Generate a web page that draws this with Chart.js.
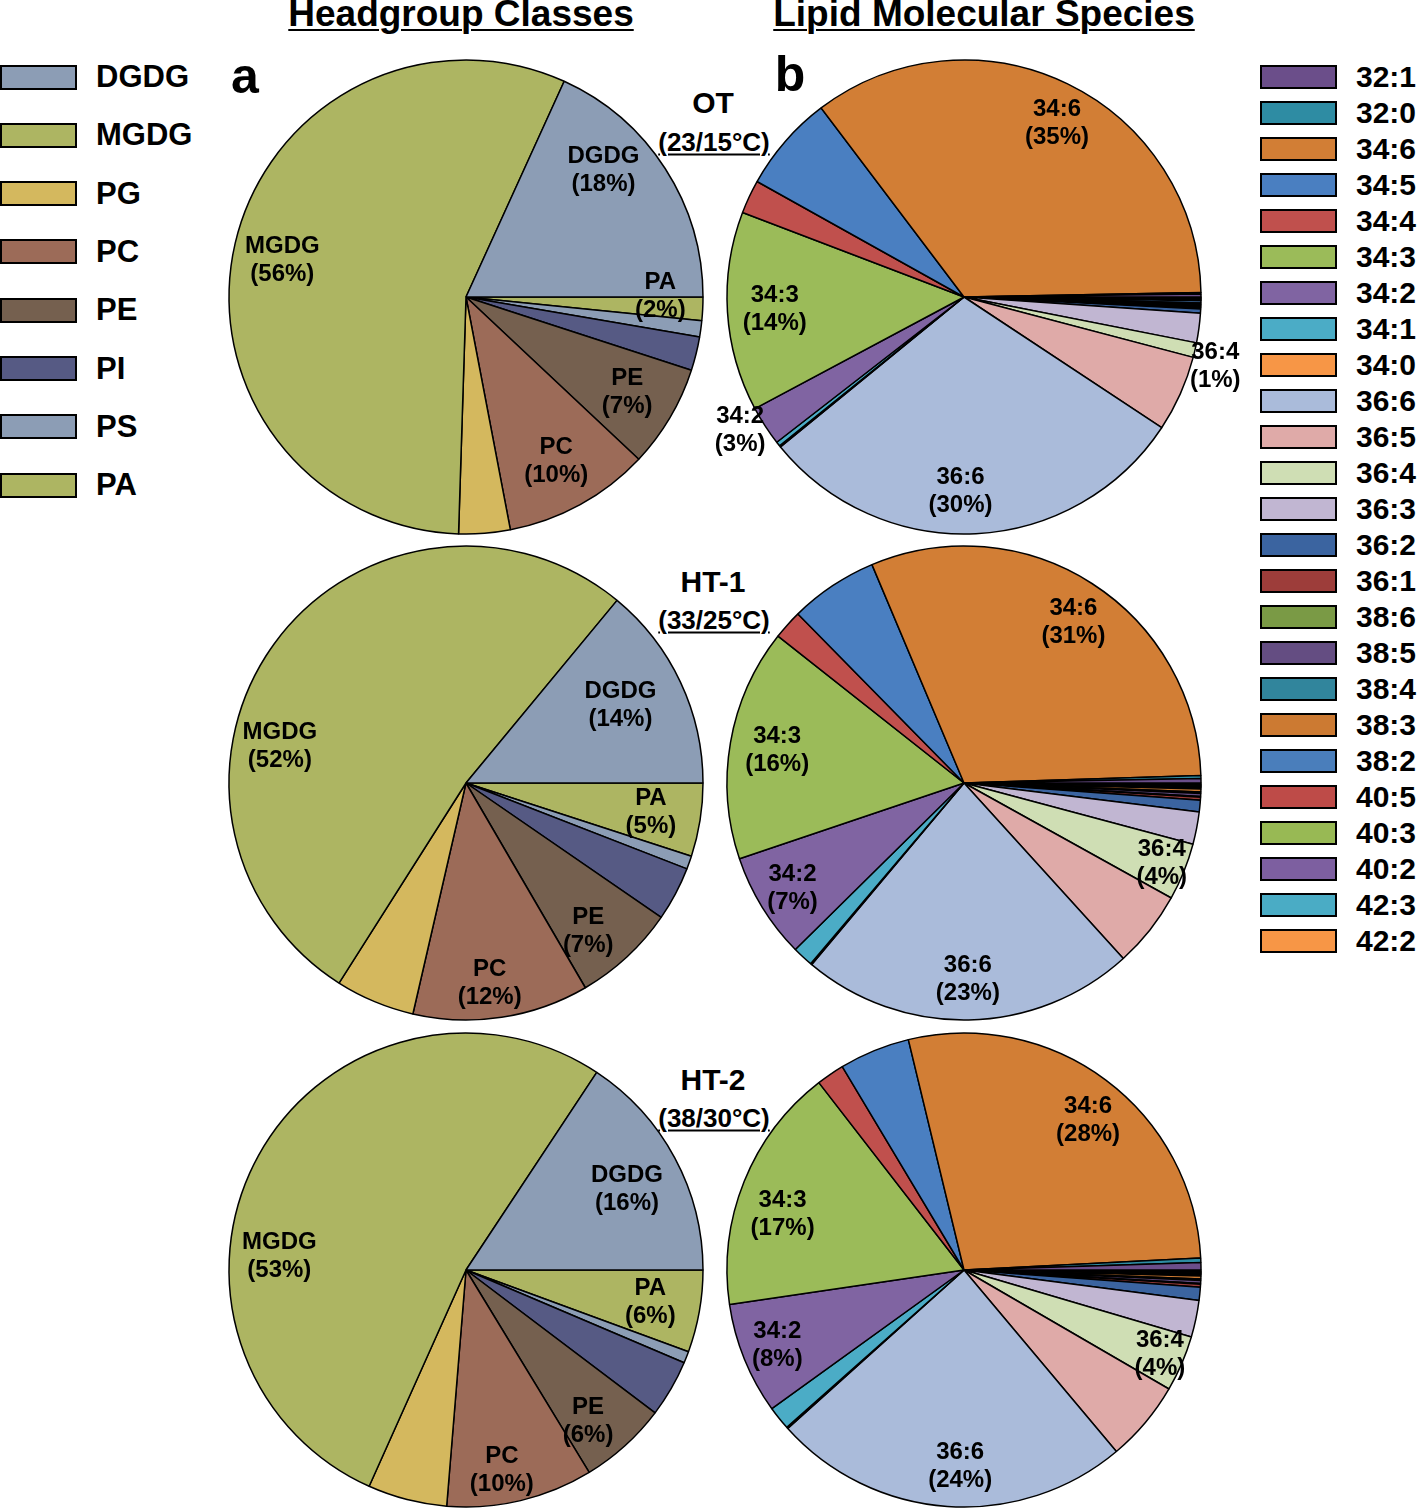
<!DOCTYPE html>
<html>
<head>
<meta charset="utf-8">
<script src="https://cdn.jsdelivr.net/npm/chart.js@4"></script>
<style>
  html, body { margin: 0; padding: 0; background: #fff; }
  body { width: 1418px; height: 1508px; position: relative; overflow: hidden;
         font-family: "Liberation Sans", Arial, sans-serif; font-weight: bold; color: #000; }
  canvas { position: absolute; }
  .t { position: absolute; white-space: nowrap; transform: translate(-50%, -50%); }
  .title { font-size: 37px; text-decoration: underline; text-decoration-thickness: 2px; text-underline-offset: 3px; }
  .panel { font-size: 50px; }
  .cond { font-size: 30px; }
  .temp { font-size: 26px; text-decoration: underline; text-decoration-thickness: 2px; text-underline-offset: 3px; }
  .lg { position: absolute; }
  .lg .sw { position: absolute; border: 2px solid #000; box-sizing: border-box; }
  .lg .tx { position: absolute; transform: translateY(-50%); white-space: nowrap; }
  #legendA .tx { font-size: 31px; }
  #legendB .tx { font-size: 30px; }
</style>
</head>
<body>
<div class="t title" style="left:461px; top:14px;">Headgroup Classes</div>
<div class="t title" style="left:984px; top:14px;">Lipid Molecular Species</div>
<div class="t panel" style="left:245px; top:76px;">a</div>
<div class="t panel" style="left:790px; top:74px;">b</div>

<div class="t cond" style="left:713px; top:103px;">OT</div>
<div class="t temp" style="left:714px; top:142px;">(23/15°C)</div>
<div class="t cond" style="left:713px; top:582px;">HT-1</div>
<div class="t temp" style="left:714px; top:620px;">(33/25°C)</div>
<div class="t cond" style="left:713px; top:1080px;">HT-2</div>
<div class="t temp" style="left:714px; top:1118px;">(38/30°C)</div>

<div id="legendA" class="lg"></div>
<div id="legendB" class="lg"></div>

<canvas id="headOT" width="600" height="600"></canvas>
<canvas id="headHT1" width="600" height="600"></canvas>
<canvas id="headHT2" width="600" height="600"></canvas>
<canvas id="specOT" width="600" height="600"></canvas>
<canvas id="specHT1" width="600" height="600"></canvas>
<canvas id="specHT2" width="600" height="600"></canvas>

<script>
// headgroup classes (%)
const headClasses = ['DGDG', 'MGDG', 'PG', 'PC', 'PE', 'PI', 'PS', 'PA'];
const headOT  = [18.2, 56.3, 3.5, 10, 7, 2.3, 1.1, 1.6];
const headHT1 = [14, 52, 5.4, 12, 7, 3.7, 0.9, 5];
const headHT2 = [15.7, 52.6, 5.4, 10, 6, 3.9, 0.8, 5.6];

// lipid molecular species (%)
const species = ['32:1', '32:0', '34:6', '34:5', '34:4', '34:3', '34:2', '34:1', '34:0',
  '36:6', '36:5', '36:4', '36:3', '36:2', '36:1', '38:6', '38:5', '38:4', '38:3', '38:2',
  '40:5', '40:3', '40:2', '42:3', '42:2'];
const specOT  = [0.2, 0.1, 35, 6.6, 2.3, 13.6, 2.7, 0.3, 0.1, 29.8, 5.2, 1.0, 2.0, 0.3, 0.1,
  0.05, 0.1, 0.05, 0.1, 0.15, 0.05, 0.05, 0.05, 0.05, 0.05];
const specHT1 = [0.3, 0.2, 30.8, 6.0, 2.0, 15.8, 7.2, 1.4, 0.1, 22.8, 5.2, 3.9, 2.2, 0.8, 0.2,
  0.05, 0.2, 0.1, 0.2, 0.1, 0.05, 0.05, 0.05, 0.05, 0.1];
const specHT2 = [0.5, 0.3, 27.9, 4.8, 1.9, 16.8, 7.6, 1.6, 0.1, 24.4, 5.5, 3.8, 2.5, 0.9, 0.2,
  0.05, 0.2, 0.1, 0.2, 0.1, 0.05, 0.05, 0.05, 0.05, 0.1];

const headColors = ['#8c9db5', '#adb562', '#d4b85e', '#9c6b58', '#75604f', '#565a84', '#8c9db5', '#adb562'];
const specColors = ['#6b4e8a', '#2e8ca3', '#d27e35', '#4a7fc1', '#c0504d', '#9bbb59', '#8064a2',
  '#4bacc6', '#f79646', '#aabbda', '#dfaaa8', '#cfdeb4', '#c1b6d2', '#3b64a0', '#9d3d3a',
  '#7a9a45', '#644d82', '#31859c', '#cc7a32', '#4a7ebb', '#be4b48', '#98b954', '#7d5fa0',
  '#4aacc5', '#f79646'];

// which slices get a label, kept outside chart options so Chart.js does not resolve them
const labelSpots = {};

const sliceLabels = {
  id: 'sliceLabels',
  afterDatasetsDraw(chart) {
    const items = labelSpots[chart.canvas.id] || [];
    const ctx = chart.ctx;
    const meta = chart.getDatasetMeta(0);
    const data = chart.data.datasets[0].data;
    const total = data.reduce((a, b) => a + b, 0);
    ctx.save();
    ctx.font = 'bold 24px "Liberation Sans", Arial, sans-serif';
    ctx.fillStyle = '#000';
    ctx.textAlign = 'center';
    ctx.textBaseline = 'middle';
    items.forEach(item => {
      const i = chart.data.labels.indexOf(item.name);
      const arc = meta.data[i];
      const mid = (arc.startAngle + arc.endAngle) / 2 + (item.turn || 0) * Math.PI / 180;
      const r = arc.outerRadius * item.r;
      const x = arc.x + Math.cos(mid) * r;
      const y = arc.y + Math.sin(mid) * r;
      ctx.fillText(item.name, x, y - 14);
      ctx.fillText('(' + Math.round(data[i] / total * 100) + '%)', x, y + 14);
    });
    ctx.restore();
  }
};

// slices run counter-clockwise from 3 o'clock, so feed them reversed
function makePie(id, cx, cy, labels, values, colors, items) {
  const el = document.getElementById(id);
  el.style.left = (cx - 300) + 'px';
  el.style.top = (cy - 300) + 'px';
  labelSpots[id] = items;
  return new Chart(el, {
    type: 'pie',
    data: {
      labels: labels.slice().reverse(),
      datasets: [{
        data: values.slice().reverse(),
        backgroundColor: colors.slice().reverse(),
        borderColor: '#000',
        borderWidth: 1.5,
      }],
    },
    options: {
      responsive: false,
      animation: false,
      rotation: 90,
      radius: 237,
      layout: { padding: 0 },
      plugins: {
        legend: { display: false },
        tooltip: { enabled: false },
      },
    },
    plugins: [sliceLabels],
  });
}

makePie('headOT', 466, 297, headClasses, headOT, headColors, [
  { name: 'DGDG', r: 0.79, turn: -10 },
  { name: 'MGDG', r: 0.79, turn: -2 },
  { name: 'PA', r: 0.82, turn: -3 },
  { name: 'PE', r: 0.79 },
  { name: 'PC', r: 0.79 },
]);
makePie('headHT1', 466, 783, headClasses, headHT1, headColors, [
  { name: 'DGDG', r: 0.73, turn: -1.6 },
  { name: 'MGDG', r: 0.8, turn: -25 },
  { name: 'PA', r: 0.79 },
  { name: 'PE', r: 0.81, turn: 3.3 },
  { name: 'PC', r: 0.85, turn: 1.9 },
]);
makePie('headHT2', 466, 1270, headClasses, headHT2, headColors, [
  { name: 'DGDG', r: 0.76, turn: 1.6 },
  { name: 'MGDG', r: 0.79, turn: -24.5 },
  { name: 'PA', r: 0.79 },
  { name: 'PE', r: 0.82, turn: 3.2 },
  { name: 'PC', r: 0.86, turn: 3.2 },
]);
makePie('specOT', 964, 297, species, specOT, specColors, [
  { name: '34:6', r: 0.83, turn: 2.3 },
  { name: '34:3', r: 0.8 },
  { name: '36:6', r: 0.82, turn: 3.9 },
  { name: '34:2', r: 1.1, turn: 2.1 },
  { name: '36:4', r: 1.1, turn: 2.5 },
]);
makePie('specHT1', 964, 783, species, specHT1, specColors, [
  { name: '34:6', r: 0.82, turn: 1.6 },
  { name: '34:3', r: 0.8 },
  { name: '34:2', r: 0.85 },
  { name: '36:6', r: 0.83 },
  { name: '36:4', r: 0.9 },
]);
makePie('specHT2', 964, 1270, species, specHT2, specColors, [
  { name: '34:6', r: 0.82, turn: 2.9 },
  { name: '34:3', r: 0.8, turn: -5 },
  { name: '34:2', r: 0.85 },
  { name: '36:6', r: 0.83, turn: -2.9 },
  { name: '36:4', r: 0.9 },
]);

// legends
function buildLegend(id, names, colors, swX, txX, y0, step, swW, swH) {
  const box = document.getElementById(id);
  names.forEach((n, i) => {
    const y = y0 + i * step;
    const sw = document.createElement('div');
    sw.className = 'sw';
    sw.style.cssText = `left:${swX}px; top:${y - swH / 2}px; width:${swW}px; height:${swH}px; background:${colors[i]};`;
    const tx = document.createElement('div');
    tx.className = 'tx';
    tx.style.cssText = `left:${txX}px; top:${y}px;`;
    tx.textContent = n;
    box.appendChild(sw);
    box.appendChild(tx);
  });
}
buildLegend('legendA', headClasses, headColors, 0, 96, 77, 58.3, 77, 25);
buildLegend('legendB', species, specColors, 1260, 1356, 77, 36, 77, 24);
</script>
</body>
</html>
